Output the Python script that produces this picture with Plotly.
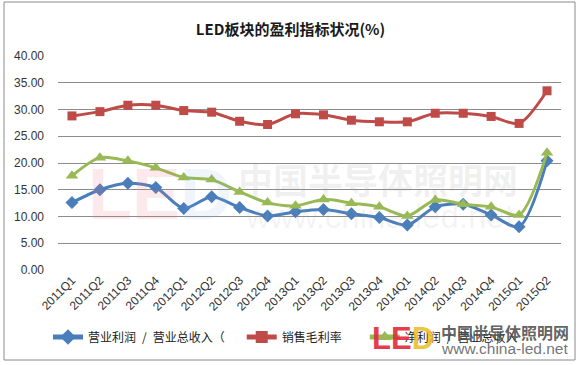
import plotly.graph_objects as go

categories = ["2011Q1", "2011Q2", "2011Q3", "2011Q4", "2012Q1", "2012Q2", "2012Q3", "2012Q4",
              "2013Q1", "2013Q2", "2013Q3", "2013Q4", "2014Q1", "2014Q2", "2014Q3", "2014Q4",
              "2015Q1", "2015Q2"]
op_margin = [12.6, 15.0, 16.2, 15.4, 11.5, 13.7, 11.7, 10.1, 10.9, 11.3, 10.5, 9.8, 8.4, 11.8, 12.3, 10.3, 8.1, 20.4]
gross_margin = [28.8, 29.6, 30.8, 30.8, 29.8, 29.5, 27.8, 27.2, 29.2, 29.0, 28.0, 27.7, 27.7, 29.3, 29.3, 28.7, 27.4, 33.5]
net_margin = [17.6, 21.0, 20.4, 19.1, 17.3, 16.9, 14.6, 12.6, 12.0, 13.2, 12.5, 11.8, 10.1, 13.1, 12.3, 11.8, 10.3, 21.9]
series_names = ["营业利润\u2002/\u2002营业总收入（", "销售毛利率", "净利润\u2002/\u2002营业总收入"]
y_ticks = [0, 5, 10, 15, 20, 25, 30, 35, 40]

FONT = "Noto Sans CJK SC, Microsoft YaHei, sans-serif"
PAD1 = "\u2002\u2002"
PAD2 = "\u2002\u2002\u2002"

fig = go.Figure()
fig.add_trace(go.Scatter(x=categories, y=op_margin, name=series_names[0] + PAD1, mode="lines+markers",
                         line=dict(color="#4A7EBB", width=3, shape="spline", smoothing=0.8),
                         marker=dict(symbol="diamond", size=10, color="#4A7EBB")))
fig.add_trace(go.Scatter(x=categories, y=gross_margin, name=series_names[1] + PAD2, mode="lines+markers",
                         line=dict(color="#BE4B48", width=3, shape="spline", smoothing=0.8),
                         marker=dict(symbol="square", size=9, color="#BE4B48")))
fig.add_trace(go.Scatter(x=categories, y=net_margin, name=series_names[2], mode="lines+markers",
                         line=dict(color="#98B954", width=3, shape="spline", smoothing=0.8),
                         marker=dict(symbol="triangle-up", size=11, color="#98B954")))

L, R, T, B = 58, 20, 56, 95
W, H = 581, 365
pw, ph = W - L - R, H - T - B

def px_x(x):
    return (x - L) / pw

def px_y(y):
    return (H - B - y) / ph

fig.update_layout(
    width=W, height=H,
    margin=dict(l=L, r=R, t=T, b=B, autoexpand=False),
    paper_bgcolor="white", plot_bgcolor="white",
    font=dict(family=FONT, color="#333333", size=11),
    title=dict(text="<b>LED板块的盈利指标状况(%)</b>", x=0.5, xanchor="center", y=1 - 30 / H,
               yanchor="middle", font=dict(size=15, color="#1a1a1a", family=FONT)),
    showlegend=True,
    legend=dict(orientation="h", x=px_x(48), xanchor="left", y=px_y(337), yanchor="middle",
                font=dict(size=12, color="#222222", family=FONT), bgcolor="rgba(0,0,0,0)",
                itemwidth=30, tracegroupgap=0, itemsizing="constant"),
    xaxis=dict(type="category", range=[-0.5, len(categories) - 0.5], tickangle=-45, showgrid=False,
               zeroline=False, showline=False, ticks="",
               tickfont=dict(size=12, color="#333333", family="Liberation Sans, Arial"),
               automargin=False),
    yaxis=dict(range=[0, 40], tickvals=y_ticks, tickformat=".2f", showgrid=True,
               gridcolor="#8c8c8c", gridwidth=1, zeroline=False, showline=False, ticks="",
               ticklabelstandoff=13,
               tickfont=dict(size=12, color="#333333", family="Liberation Sans, Arial"),
               automargin=False),
)

# outer border
fig.add_shape(type="rect", xref="paper", yref="paper",
              x0=px_x(4), x1=px_x(575), y0=px_y(360), y1=px_y(2),
              line=dict(color="#8a8a8a", width=1), fillcolor="rgba(0,0,0,0)", layer="below")

# faint watermark in the middle of the chart
fig.add_annotation(xref="paper", yref="paper", x=px_x(86), y=px_y(194), xanchor="left", yanchor="middle",
                   text="<b><span style='color:rgba(235,120,130,0.16)'>LE</span>"
                        "<span style='color:rgba(120,170,220,0.12)'>D</span></b>", showarrow=False,
                   font=dict(size=72, family="Liberation Sans, Arial"))
fig.add_annotation(xref="paper", yref="paper", x=px_x(236), y=px_y(178), xanchor="left", yanchor="middle",
                   text="<b>中国半导体照明网</b>", showarrow=False,
                   font=dict(size=35, color="rgba(160,160,160,0.16)", family=FONT))
fig.add_annotation(xref="paper", yref="paper", x=px_x(243), y=px_y(216), xanchor="left", yanchor="middle",
                   text="www.china-led.net", showarrow=False,
                   font=dict(size=33, color="rgba(160,160,160,0.12)", family="Liberation Sans, Arial"))

# watermark logo bottom right
fig.add_annotation(xref="paper", yref="paper", x=px_x(370), y=px_y(338), xanchor="left", yanchor="middle",
                   text="<b><span style='color:rgba(226,42,60,0.92)'>LE</span>"
                        "<span style='color:rgba(235,190,40,0.9)'>D</span></b>", showarrow=False,
                   font=dict(size=31, family="Liberation Sans, Arial"))
fig.add_annotation(xref="paper", yref="paper", x=px_x(439), y=px_y(332), xanchor="left", yanchor="middle",
                   text="<b>中国半导体照明网</b>", showarrow=False,
                   font=dict(size=16, color="rgba(80,80,80,0.9)", family=FONT))
fig.add_annotation(xref="paper", yref="paper", x=px_x(439), y=px_y(348), xanchor="left", yanchor="middle",
                   text="www.china-led.net", showarrow=False,
                   font=dict(size=15.5, color="rgba(100,100,100,0.9)", family="Liberation Sans, Arial"))

fig.write_html("out.html", config={"displayModeBar": False},
               post_script="document.body.style.margin='0px';document.body.style.overflow='hidden';")
